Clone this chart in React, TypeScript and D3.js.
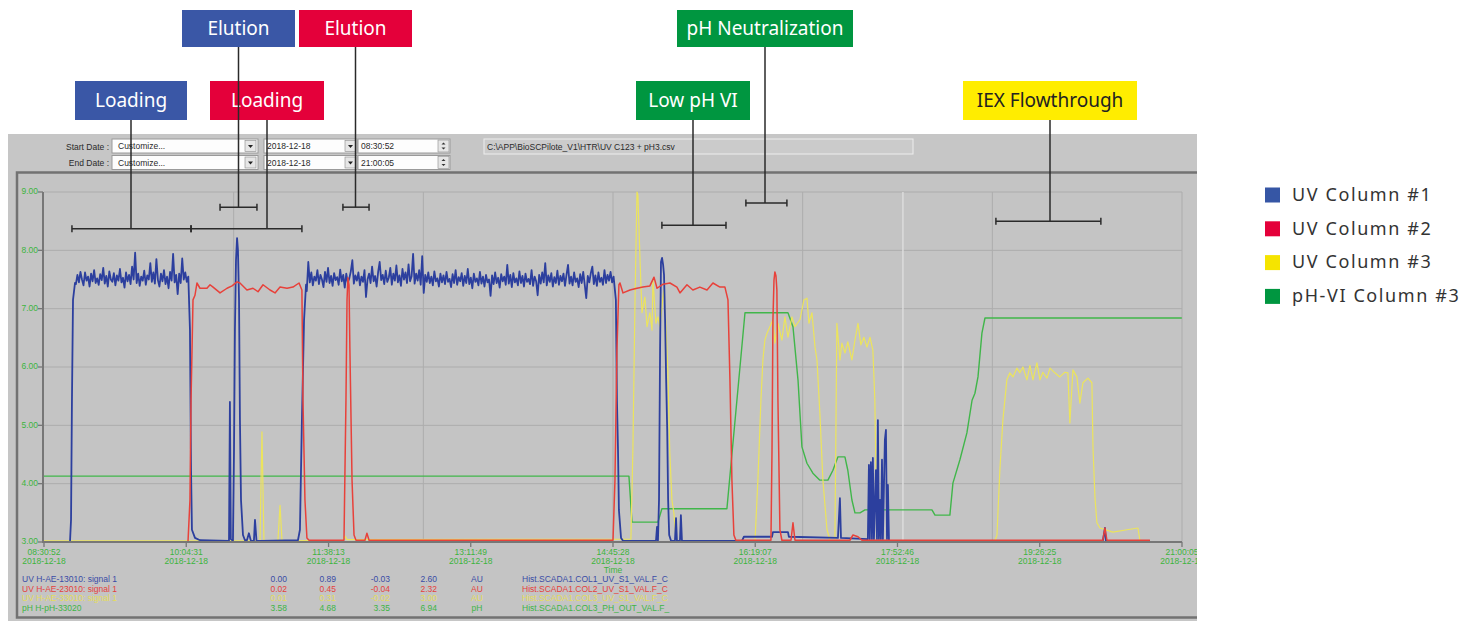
import React from "react"
import * as d3 from "d3"

// Time is minutes after the start of the record (08:30:52, 2018-12-18)
const startTime = "08:30:52"
const endTime = "21:00:05"
const tickTimes = ["08:30:52", "10:04:31", "11:38:13", "13:11:49", "14:45:28", "16:19:07", "17:52:46", "19:26:25", "21:00:05"]
const tickDate = "2018-12-18"
const yTicks = [3, 4, 5, 6, 7, 8, 9]

// UV Column #1 (blue)
const uv1Start = [[0, 3.0], [17.1, 3.0], [17.8, 3.38], [18.4, 5.43], [19.1, 7.15], [20.4, 7.44]]
// loading plateau 1, one reading per minute from t = 21
const uv1Load1 = [
  7.42, 7.58, 7.45, 7.63, 7.50, 7.40, 7.62, 7.48, 7.55, 7.38,
  7.60, 7.47, 7.66, 7.44, 7.52, 7.41, 7.59, 7.49, 7.70, 7.43,
  7.56, 7.38, 7.64, 7.50, 7.46, 7.61, 7.40, 7.57, 7.48, 7.68,
  7.45, 7.53, 7.36, 7.62, 7.47, 7.58, 7.42, 7.72, 7.50, 7.96,
  7.44, 7.60, 7.39, 7.55, 7.48, 7.65, 7.41, 7.57, 7.50, 7.78,
  7.46, 7.62, 7.43, 7.85, 7.49, 7.38, 7.60, 7.47, 7.66, 7.42,
  7.55, 7.35, 7.63, 7.48, 7.94, 7.45, 7.58, 7.25, 7.60, 7.44,
  7.86, 7.50, 7.62, 7.46, 7.55,
]
const uv1Mid = [
  [96.1, 6.63], [96.8, 4.23], [97.4, 3.21], [99.4, 3.07], [102.7, 3.03], [121.8, 3.02],
  [122.4, 5.4], [123.0, 3.05], [124.4, 3.02], [125.1, 4.58], [125.7, 6.63], [126.4, 7.83],
  [127.1, 8.21], [127.7, 8.0], [128.4, 7.15], [129.0, 5.09], [129.7, 3.72], [131.0, 3.12],
  [132.3, 3.03], [133.6, 3.03], [134.9, 3.15], [136.2, 3.02], [138.2, 3.02], [138.9, 3.38],
  [139.9, 3.02], [142.2, 3.02], [167.2, 3.03], [168.5, 3.21], [169.8, 5.09], [171.2, 6.8],
  [172.5, 7.41],
]
// loading plateau 2, one reading per minute from t = 173
const uv1Load2 = [
  7.30, 7.80, 7.45, 7.62, 7.40, 7.55, 7.48, 7.66, 7.42, 7.58,
  7.50, 7.37, 7.63, 7.46, 7.70, 7.44, 7.56, 7.39, 7.61, 7.49,
  7.54, 7.41, 7.67, 7.47, 7.58, 7.36, 7.60, 7.45, 7.52, 7.64,
  7.83, 7.43, 7.57, 7.48, 7.62, 7.40, 7.55, 7.46, 7.66, 7.20,
  7.50, 7.60, 7.44, 7.72, 7.47, 7.56, 7.38, 7.63, 7.80, 7.49,
  7.58, 7.42, 7.65, 7.46, 7.53, 7.70, 7.41, 7.60, 7.48, 7.74,
  7.45, 7.57, 7.39, 7.68, 7.50, 7.62, 7.44, 7.76, 7.47, 7.55,
  7.94, 7.43, 7.60, 7.48, 7.66, 7.41, 7.90, 7.27, 7.58, 7.46,
  7.62, 7.44, 7.55, 7.40, 7.64, 7.47, 7.52, 7.38, 7.60, 7.45,
  7.57, 7.42, 7.63, 7.46, 7.51, 7.37, 7.59, 7.44, 7.66, 7.41,
  7.54, 7.47, 7.61, 7.39, 7.56, 7.44, 7.68, 7.42, 7.53, 7.35,
  7.60, 7.46, 7.52, 7.40, 7.63, 7.43, 7.55, 7.38, 7.58, 7.45,
  7.50, 7.22, 7.57, 7.42, 7.62, 7.44, 7.53, 7.36, 7.59, 7.47,
  7.55, 7.41, 7.75, 7.43, 7.58, 7.37, 7.61, 7.45, 7.52, 7.40,
  7.64, 7.44, 7.56, 7.38, 7.60, 7.46, 7.51, 7.42, 7.66, 7.39,
  7.55, 7.47, 7.23, 7.58, 7.43, 7.62, 7.45, 7.78, 7.40, 7.57,
  7.46, 7.61, 7.38, 7.54, 7.44, 7.65, 7.41, 7.56, 7.47, 7.60,
  7.39, 7.58, 7.75, 7.43, 7.55, 7.40, 7.62, 7.46, 7.52, 7.37,
  7.59, 7.44, 7.63, 7.41, 7.18, 7.56, 7.45, 7.61, 7.72, 7.42,
  7.57, 7.39, 7.62, 7.46, 7.53, 7.41, 7.66, 7.44, 7.58, 7.48,
  7.63, 7.45, 7.55,
]
const uv1End = [
  [376.5, 7.15], [377.2, 5.43], [377.9, 4.58], [378.5, 3.55], [379.9, 3.07], [381.2, 3.02],
  [402.9, 3.02], [403.6, 3.26], [404.2, 3.02], [404.9, 3.72], [405.6, 6.29], [406.2, 7.8],
  [406.9, 7.87], [407.6, 7.75], [408.2, 7.58], [408.9, 6.81], [409.6, 5.78], [410.3, 4.92],
  [410.9, 3.72], [411.6, 3.12], [412.8, 3.02], [415.4, 3.02], [416.1, 3.41], [416.7, 3.02],
  [418.7, 3.02], [419.3, 3.46], [420.0, 3.02], [459.5, 3.02], [460.8, 3.09], [479.3, 3.09],
  [479.9, 3.17], [489.8, 3.17], [490.4, 3.09], [522.7, 3.07], [524.0, 3.75], [524.7, 3.07],
  [542.4, 3.05], [543.1, 4.32], [543.7, 3.05], [544.4, 4.37], [545.1, 3.05], [545.7, 4.44],
  [546.4, 3.05], [547.7, 4.23], [548.4, 3.05], [549.0, 5.09], [549.7, 3.05], [550.4, 3.72],
  [551.0, 3.05], [551.7, 4.41], [552.3, 3.05], [553.6, 4.75], [554.3, 4.92], [555.0, 3.05],
  [555.6, 3.98], [556.3, 3.02], [697.1, 3.02], [698.5, 3.24], [699.1, 3.02], [728.1, 3.02],
]

// UV Column #2 (red)
const uv2 = [
  [0, 3.0], [94.8, 3.0], [96.1, 3.72], [96.8, 5.43], [98.1, 7.15], [99.4, 7.23], [100.7, 7.44],
  [102.7, 7.35], [107.3, 7.35], [109.3, 7.41], [111.3, 7.37], [115.9, 7.27], [120.5, 7.35],
  [123.8, 7.39], [127.1, 7.46], [129.0, 7.44], [133.6, 7.32], [137.6, 7.35], [140.9, 7.29],
  [144.2, 7.41], [148.8, 7.32], [152.1, 7.27], [155.4, 7.37], [160.0, 7.35], [163.9, 7.37],
  [167.9, 7.44], [169.8, 7.32], [170.5, 5.43], [171.8, 3.72], [173.1, 3.07], [174.5, 3.03],
  [197.5, 3.03], [198.8, 5.43], [199.5, 7.15], [200.1, 7.53], [200.8, 7.41], [201.4, 6.29],
  [202.8, 4.06], [204.1, 3.12], [205.4, 3.03], [211.3, 3.03], [212.6, 3.15], [214.0, 3.03],
  [374.6, 3.03], [375.9, 4.06], [377.2, 6.29], [378.5, 7.41], [379.2, 7.44], [381.2, 7.27],
  [385.8, 7.32], [390.4, 7.35], [394.3, 7.37], [398.9, 7.39], [401.6, 7.54], [403.6, 7.35],
  [407.6, 7.42], [412.1, 7.44], [416.7, 7.37], [418.7, 7.27], [423.3, 7.41], [427.2, 7.32],
  [431.8, 7.37], [436.5, 7.32], [440.4, 7.44], [445.0, 7.37], [448.3, 7.37], [450.3, 7.15],
  [451.6, 5.78], [452.9, 4.06], [454.2, 3.12], [455.5, 3.03], [478.6, 3.03], [479.3, 4.58],
  [479.9, 6.81], [480.6, 7.49], [481.2, 7.63], [481.9, 7.56], [482.5, 7.32], [483.2, 5.43],
  [483.9, 4.23], [484.5, 3.21], [485.8, 3.03], [491.8, 3.03], [493.1, 3.33], [494.4, 3.03],
  [530.6, 3.03], [532.6, 3.12], [535.9, 3.09], [538.5, 3.03], [697.1, 3.03], [698.5, 3.24],
  [699.8, 3.03], [728.1, 3.03],
]

// UV Column #3 (yellow)
const uv3 = [
  [0, 3.02], [142.2, 3.02], [143.5, 4.89], [144.8, 3.02], [154.0, 3.02], [155.4, 3.63],
  [156.7, 3.02], [196.8, 3.03], [198.2, 3.1], [199.5, 3.04], [386.4, 3.05], [387.7, 4.58],
  [389.1, 7.15], [390.4, 9.0], [391.0, 8.95], [392.4, 7.83], [393.7, 6.93], [395.6, 7.2],
  [397.0, 6.69], [398.9, 6.93], [400.3, 6.63], [400.9, 7.49], [402.9, 6.75], [404.2, 6.86],
  [405.5, 6.69], [408.0, 7.32], [409.3, 6.81], [410.7, 5.95], [412.0, 4.53], [413.4, 3.72],
  [414.7, 3.5], [416.0, 3.07], [417.3, 3.02], [468.1, 3.02], [470.0, 4.06], [472.0, 5.43],
  [473.3, 6.12], [474.6, 6.46], [476.0, 6.58], [477.9, 6.69], [479.9, 6.81], [481.2, 6.41],
  [483.2, 6.75], [485.8, 6.46], [487.8, 6.86], [489.8, 6.51], [492.4, 6.86], [494.4, 6.69],
  [497.7, 6.81], [500.3, 7.15], [502.3, 7.18], [503.6, 6.75], [505.6, 6.93], [507.6, 6.34],
  [508.9, 6.12], [510.8, 5.21], [512.8, 4.06], [515.5, 3.21], [517.5, 3.03], [520.7, 3.02],
  [522.0, 6.75], [524.0, 6.12], [525.3, 6.41], [527.3, 6.24], [529.2, 6.43], [531.9, 6.12],
  [533.9, 6.46], [535.9, 6.75], [537.8, 6.38], [539.8, 6.51], [541.8, 6.34], [543.8, 6.51],
  [545.7, 6.29], [547.0, 5.43], [547.7, 4.23], [549.0, 3.38], [550.4, 3.03], [626.0, 3.02],
  [627.4, 3.12], [629.3, 4.23], [631.3, 5.09], [633.9, 5.78], [635.9, 5.9], [637.9, 5.83],
  [640.5, 5.98], [642.5, 5.9], [644.5, 6.0], [647.1, 5.78], [649.1, 6.03], [651.1, 5.78],
  [653.7, 6.07], [655.7, 5.78], [657.6, 5.91], [660.3, 5.81], [662.3, 5.98], [665.5, 5.9],
  [668.8, 5.83], [672.1, 5.91], [674.1, 5.9], [675.4, 5.04], [677.4, 5.95], [680.0, 5.83],
  [682.0, 5.38], [684.0, 5.73], [687.3, 5.81], [689.9, 5.73], [690.6, 4.63], [691.9, 3.77],
  [693.2, 3.33], [695.2, 3.24], [703.7, 3.17], [713.0, 3.21], [720.2, 3.24], [721.5, 3.03],
  [728.1, 3.02],
]

// pH-VI Column #3 (green)
const ph3 = [
  [0, 4.13], [385.1, 4.13], [387.1, 3.34], [404.2, 3.34], [406.8, 3.57], [449.6, 3.57],
  [461.5, 6.93], [489.8, 6.93], [493.1, 6.69], [496.4, 5.78], [499.0, 4.63], [502.3, 4.35],
  [506.2, 4.18], [510.8, 4.06], [516.1, 4.06], [519.4, 4.23], [522.7, 4.46], [527.3, 4.46],
  [529.2, 4.23], [531.9, 3.72], [533.9, 3.5], [537.2, 3.5], [540.5, 3.55], [584.6, 3.55],
  [586.6, 3.46], [596.4, 3.46], [598.4, 4.01], [603.0, 4.41], [607.6, 4.87], [611.0, 5.43],
  [612.9, 5.55], [614.9, 5.83], [617.5, 6.58], [619.5, 6.84], [749.1, 6.84],
]

// process phases marked above the trace (time span and bracket level)
const phaseLabels = ["Loading", "Loading", "Elution", "Elution", "Low pH VI", "pH Neutralization", "IEX Flowthrough"]
const phaseFrom = [18.4, 96.8, 115.9, 196.8, 406.8, 462.1, 626.7]
const phaseTo = [96.8, 169.8, 140.2, 214.0, 449.0, 489.1, 695.8]
const phaseLevel = [8.37, 8.37, 8.74, 8.74, 8.43, 8.81, 8.5]

// table under the chart
const tagNames = ["UV H-AE-13010: signal 1", "UV H-AE-23010: signal 1", "UV H-AE-33010: signal 1", "pH H-pH-33020"]
const tagCurrent = ["0.00", "0.02", "0.01", "3.58"]
const tagAvg = ["0.89", "0.45", "0.31", "4.68"]
const tagMin = ["-0.03", "-0.04", "-0.02", "3.35"]
const tagMax = ["2.60", "2.32", "3.00", "6.94"]
const tagUnits = ["AU", "AU", "AU", "pH"]
const tagPaths = [
  "Hist.SCADA1.COL1_UV_S1_VAL.F_C",
  "Hist.SCADA1.COL2_UV_S1_VAL.F_C",
  "Hist.SCADA1.COL3_UV_S1_VAL.F_C",
  "Hist.SCADA1.COL3_PH_OUT_VAL.F_",
]

const legendLabels = ["UV Column #1", "UV Column #2", "UV Column #3", "pH-VI Column #3"]

// styling
const traceColors = ["#2c3f9e", "#e8413a", "#ece45c", "#40b64a"]
const tableColors = ["#3a4ca6", "#e4413c", "#e4dd5a", "#3db545"]
const legendColors = ["#3656a5", "#e4003a", "#f5e400", "#009640"]
const axisGreen = "#3cb43c"

// label boxes: [x, y, w, h, fill, text colour] for each phase
const boxes = [
  [75, 81, 112, 39, "#3a57a6", "#fff"],
  [210, 81, 114, 39, "#e4003a", "#fff"],
  [182, 10, 113, 37, "#3a57a6", "#fff"],
  [299, 10, 113, 37, "#e4003a", "#fff"],
  [636, 81, 114, 39, "#009640", "#fff"],
  [677, 10, 176, 37, "#009640", "#fff"],
  [963, 81, 174, 39, "#ffed00", "#222"],
]

const toMinutes = (s: string) => {
  const [h, m, sec] = s.split(":").map(Number)
  return h * 60 + m + sec / 60
}

const W = 1473
const H = 623
const plot = { left: 44, right: 1182, top: 192, bottom: 542 }

const App = () => {
  const t0 = toMinutes(startTime)
  const tEnd = toMinutes(endTime) - t0

  const x = d3.scaleLinear().domain([0, tEnd]).range([plot.left, plot.right])
  const y = d3.scaleLinear().domain([3, 9]).range([plot.bottom, plot.top])
  const line = d3
    .line<number[]>()
    .x(d => x(d[0]))
    .y(d => y(d[1]))

  const uv1 = [
    ...uv1Start,
    ...uv1Load1.map((v, i) => [21 + i, v]),
    ...uv1Mid,
    ...uv1Load2.map((v, i) => [173 + i, v]),
    ...uv1End,
  ]
  // drawing order: green, yellow, blue, red
  const traces = [
    { d: ph3, c: traceColors[3], w: 1.4 },
    { d: uv3, c: traceColors[2], w: 1.2 },
    { d: uv1, c: traceColors[0], w: 1.8 },
    { d: uv2, c: traceColors[1], w: 1.5 },
  ]

  const xTicks = tickTimes.map(s => toMinutes(s) - t0)
  const vGrid = d3.range(1, 7).map(i => (tEnd * i) / 6)

  const font = "'Liberation Sans', Arial, sans-serif"
  const tableY = [580, 589.5, 599, 608.5]

  return (
    <svg
      width={W}
      height={H}
      style={{ position: "absolute", left: 0, top: 0, background: "#fff" }}
    >
      <defs>
        <clipPath id="panel">
          <rect x={8} y={134} width={1189} height={487} />
        </clipPath>
      </defs>

      <g clipPath="url(#panel)" fontFamily={font}>
        <rect x={8} y={134} width={1189} height={487} fill="#c6c6c6" />

        {/* header controls */}
        <g fontSize={8.5} fill="#2a2a2a">
          <text x={109} y={149.5} textAnchor="end">Start Date :</text>
          <text x={109} y={165.5} textAnchor="end">End Date :</text>
          {[139, 155.5].map((top, r) => (
            <g key={r}>
              <rect x={112} y={top} width={146} height={14} fill="#fdfdfd" stroke="#9a9a9a" />
              <text x={118} y={top + 10}>Customize...</text>
              <rect x={245} y={top + 1.5} width={11} height={11} fill="#e6e6e6" stroke="#8a8a8a" strokeWidth={0.6} />
              <path d={`M248 ${top + 6} h5 l-2.5 3 z`} fill="#222" />

              <rect x={264} y={top} width={93} height={14} fill="#fdfdfd" stroke="#9a9a9a" />
              <text x={267} y={top + 10}>2018-12-18</text>
              <rect x={345} y={top + 1.5} width={11} height={11} fill="#e6e6e6" stroke="#8a8a8a" strokeWidth={0.6} />
              <path d={`M348 ${top + 6} h5 l-2.5 3 z`} fill="#222" />

              <rect x={358} y={top} width={92} height={14} fill="#fdfdfd" stroke="#9a9a9a" />
              <text x={361} y={top + 10}>{r === 0 ? "08:30:52" : "21:00:05"}</text>
              <rect x={438} y={top + 1} width={11} height={12} fill="#e6e6e6" stroke="#8a8a8a" strokeWidth={0.6} />
              <path d={`M441.5 ${top + 5.5} h4 l-2 -2 z M441.5 ${top + 8.5} h4 l-2 2 z`} fill="#333" />
            </g>
          ))}
          <rect x={484} y={139} width={429} height={15} fill="#cbcbcb" stroke="#ededed" />
          <text x={487} y={149.5}>C:\APP\BioSCPilote_V1\HTR\UV C123 + pH3.csv</text>
        </g>

        {/* chart frame */}
        <rect x={17} y={172.5} width={1190} height={445} fill="#c4c4c4" stroke="#727272" strokeWidth={2.5} />

        {/* grid */}
        <g stroke="#acacac" strokeWidth={1}>
          {yTicks.slice(1).map(v => (
            <line key={v} x1={plot.left} x2={plot.right} y1={y(v)} y2={y(v)} />
          ))}
          {vGrid.map(t => (
            <line key={t} x1={x(t)} x2={x(t)} y1={plot.top} y2={plot.bottom} />
          ))}
        </g>
        <line x1={x(565.5)} x2={x(565.5)} y1={plot.top} y2={plot.bottom} stroke="#dcdcdc" strokeWidth={1.5} />

        {/* traces */}
        {traces.map((s, i) => (
          <path key={i} d={line(s.d as number[][]) ?? ""} fill="none" stroke={s.c} strokeWidth={s.w} strokeLinejoin="round" />
        ))}

        {/* axes */}
        <g stroke="#777" strokeWidth={2}>
          <line x1={plot.left - 1} x2={plot.left - 1} y1={plot.top} y2={plot.bottom + 1} />
          <line x1={plot.left - 1} x2={plot.right} y1={plot.bottom} y2={plot.bottom} />
          {yTicks.map(v => (
            <line key={v} x1={plot.left - 6} x2={plot.left - 1} y1={y(v)} y2={y(v)} strokeWidth={1.3} />
          ))}
          {xTicks.map(t => (
            <line key={t} x1={x(t)} x2={x(t)} y1={plot.bottom} y2={plot.bottom + 5} strokeWidth={1.3} />
          ))}
        </g>
        <g fill={axisGreen} fontSize={8.5}>
          {yTicks.map(v => (
            <text key={v} x={plot.left - 6} y={y(v)} textAnchor="end" dominantBaseline="middle">
              {v.toFixed(2)}
            </text>
          ))}
          {xTicks.map((t, i) => (
            <text key={t} x={x(t)} y={555} textAnchor="middle">
              <tspan x={x(t)}>{tickTimes[i]}</tspan>
              <tspan x={x(t)} dy={8.5}>{tickDate}</tspan>
            </text>
          ))}
          <text x={(plot.left + plot.right) / 2} y={573} textAnchor="middle">Time</text>
        </g>

        {/* tag table */}
        <g fontSize={8.5}>
          {tagNames.map((n, i) => (
            <g key={n} fill={tableColors[i]} transform={`translate(0, ${tableY[i]})`}>
              <text x={22} dominantBaseline="middle">{n}</text>
              <text x={287} textAnchor="end" dominantBaseline="middle">{tagCurrent[i]}</text>
              <text x={336} textAnchor="end" dominantBaseline="middle">{tagAvg[i]}</text>
              <text x={390} textAnchor="end" dominantBaseline="middle">{tagMin[i]}</text>
              <text x={437} textAnchor="end" dominantBaseline="middle">{tagMax[i]}</text>
              <text x={477} textAnchor="middle" dominantBaseline="middle">{tagUnits[i]}</text>
              <text x={522} dominantBaseline="middle">{tagPaths[i]}</text>
            </g>
          ))}
        </g>
      </g>

      {/* phase annotations */}
      <g fontFamily="'Noto Sans', sans-serif">
        {phaseLabels.map((label, i) => {
          const [bx, by, bw, bh, fill, tc] = boxes[i] as [number, number, number, number, string, string]
          const cx = bx + bw / 2
          const ly = y(phaseLevel[i])
          const x1 = x(phaseFrom[i])
          const x2 = x(phaseTo[i])
          return (
            <g key={i}>
              <g stroke="#2a2a2a" strokeWidth={1.5}>
                <line x1={cx} x2={cx} y1={by + bh} y2={ly} />
                <line x1={x1} x2={x2} y1={ly} y2={ly} />
                <line x1={x1} x2={x1} y1={ly - 3.5} y2={ly + 3.5} />
                <line x1={x2} x2={x2} y1={ly - 3.5} y2={ly + 3.5} />
              </g>
              <rect x={bx} y={by} width={bw} height={bh} fill={fill} />
              <text x={cx} y={by + bh / 2 + 1} textAnchor="middle" dominantBaseline="middle" fontSize={19} fill={tc}>
                {label}
              </text>
            </g>
          )
        })}
      </g>

      {/* legend */}
      <g fontFamily="'Noto Sans', sans-serif" fontSize={18} fill="#333">
        {legendLabels.map((l, i) => (
          <g key={l} transform={`translate(1265, ${195 + i * 33.8})`}>
            <rect x={0} y={-7.5} width={15} height={15} fill={legendColors[i]} />
            <text x={27} y={1} dominantBaseline="middle" letterSpacing={1.6}>{l}</text>
          </g>
        ))}
      </g>
    </svg>
  )
}

export default App
